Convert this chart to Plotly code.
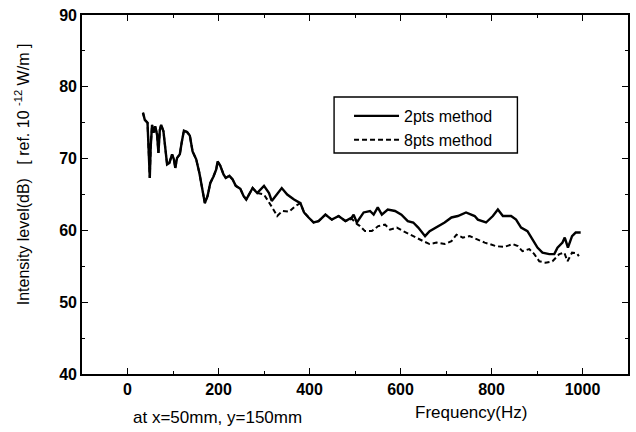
import plotly.graph_objects as go

# ---- data ----
freq_2pts = [34, 38, 44, 49, 51, 54, 57, 61, 65, 68, 71, 74, 79, 83, 87, 92, 98, 102, 105, 109,
             115, 119, 124, 131, 137, 143, 151, 158, 165, 170, 176, 182, 189, 195, 198, 204, 211,
             216, 224, 231, 238, 248, 255, 261, 275, 285, 300, 311, 317, 329, 339, 351, 366, 380,
             388, 398, 409, 420, 435, 449, 464, 479, 493, 497, 504, 519, 533, 541, 550, 559, 572,
             588, 602, 616, 628, 639, 654, 664, 679, 697, 712, 726, 744, 763, 770, 788, 803, 814,
             825, 843, 854, 865, 879, 890, 901, 912, 927, 938, 945, 956, 961, 968, 977, 985, 996]
level_2pts = [76.4, 75.4, 75.0, 67.3, 71.7, 74.7, 73.6, 74.5, 73.3, 70.8, 74.0, 74.7, 73.8, 71.7,
              69.2, 69.4, 70.6, 69.9, 68.7, 70.1, 70.6, 72.2, 73.9, 73.7, 73.2, 71.0, 69.9, 68.0,
              65.2, 63.8, 64.8, 66.6, 67.5, 68.5, 69.6, 69.0, 67.8, 67.3, 67.6, 67.1, 66.2, 65.8,
              64.8, 64.3, 65.9, 65.2, 66.2, 65.2, 64.1, 65.0, 65.9, 65.0, 64.3, 63.8, 62.5, 61.8,
              61.1, 61.3, 62.2, 61.5, 62.0, 61.3, 61.8, 62.2, 61.1, 62.5, 62.7, 62.2, 63.2, 62.2,
              62.9, 62.7, 62.2, 61.3, 61.1, 60.4, 59.2, 59.9, 60.4, 61.1, 61.8, 62.0, 62.5, 62.0,
              61.5, 61.1, 62.0, 62.9, 62.0, 62.0, 61.5, 60.4, 59.9, 58.75, 57.6, 56.9, 56.7, 56.7,
              57.6, 58.3, 59.0, 57.6, 59.2, 59.7, 59.7]

freq_8pts = [34, 38, 44, 49, 51, 54, 57, 61, 65, 68, 71, 74, 79, 83, 87, 92, 98, 102, 105, 109,
             115, 119, 124, 131, 137, 143, 151, 158, 165, 170, 176, 182, 189, 195, 198, 204, 211,
             216, 224, 231, 238, 248, 255, 261, 275, 285, 293, 300, 318, 329, 340, 355, 369, 380,
             388, 398, 409, 420, 435, 449, 464, 479, 493, 504, 511, 522, 537, 551, 566, 577, 592,
             606, 621, 635, 650, 664, 679, 697, 712, 723, 737, 752, 767, 785, 796, 810, 828, 847,
             858, 868, 883, 894, 905, 919, 934, 949, 960, 967, 977, 988, 992]
level_8pts = [76.4, 75.4, 75.0, 67.3, 71.7, 74.7, 73.6, 74.5, 73.3, 70.8, 74.0, 74.7, 73.8, 71.7,
              69.2, 69.4, 70.6, 69.9, 68.7, 70.1, 70.6, 72.2, 73.9, 73.7, 73.2, 71.0, 69.9, 68.0,
              65.2, 63.8, 64.8, 66.6, 67.5, 68.5, 69.6, 69.0, 67.8, 67.3, 67.6, 67.1, 66.2, 65.8,
              64.8, 64.3, 65.9, 65.2, 65.1, 65.0, 63.2, 62.0, 62.7, 62.6, 63.4, 63.8, 62.5, 61.8,
              61.1, 61.3, 62.2, 61.5, 62.0, 61.3, 61.6, 60.9, 60.6, 59.9, 59.9, 60.6, 60.8, 60.1,
              60.4, 59.9, 59.4, 59.0, 58.5, 58.1, 58.3, 58.1, 58.5, 59.4, 59.0, 59.2, 58.75, 58.3,
              58.1, 57.8, 57.7, 58.1, 57.8, 57.1, 57.4, 56.7, 55.7, 55.5, 55.7, 56.7, 56.9, 55.7,
              56.9, 56.8, 56.4]

x_ticks = [0, 200, 400, 600, 800, 1000]
y_ticks = [40, 50, 60, 70, 80, 90]

FONT = "Liberation Sans, Arial, sans-serif"

W, H = 636, 432
L, R, T, B = 82, 6, 15, 58
pw, ph = W - L - R, H - T - B


def px_x(v):
    return (v - L) / pw


def px_y(v):
    return (H - B - v) / ph


fig = go.Figure()
fig.add_trace(go.Scatter(x=freq_2pts, y=level_2pts, mode="lines", name="2pts method",
                         line=dict(color="black", width=2.4)))
fig.add_trace(go.Scatter(x=freq_8pts, y=level_8pts, mode="lines", name="8pts method",
                         line=dict(color="black", width=2, dash="5px,3px")))

axis_common = dict(showgrid=False, zeroline=False, showline=True, linecolor="black",
                   linewidth=1.6, mirror="ticks", ticks="inside", ticklen=6, tickwidth=1.4,
                   tickcolor="black",
                   tickfont=dict(family="Arial", size=16, color="black", weight=700))

fig.update_xaxes(range=[-100, 1100], tickvals=x_ticks, ticktext=[str(v) for v in x_ticks],
                 minor=dict(dtick=100, tick0=0, ticks="inside", ticklen=3, tickcolor="black"),
                 **axis_common)
fig.update_yaxes(range=[40, 90], tickvals=y_ticks, ticktext=[str(v) for v in y_ticks],
                 minor=dict(dtick=5, tick0=0, ticks="inside", ticklen=3, tickcolor="black"),
                 **axis_common)

fig.update_layout(
    width=W, height=H,
    margin=dict(l=L, r=R, t=T, b=B),
    paper_bgcolor="white", plot_bgcolor="white",
    font=dict(family=FONT, size=16, color="black"),
    showlegend=True,
    legend=dict(x=px_x(350), y=px_y(99), xanchor="left", yanchor="top",
                bgcolor="rgba(0,0,0,0)", borderwidth=0,
                font=dict(family=FONT, size=16, color="black"),
                itemwidth=45, tracegroupgap=0),
    shapes=[dict(type="rect", xref="paper", yref="paper",
                 x0=px_x(335), x1=px_x(519), y0=px_y(153), y1=px_y(97),
                 line=dict(color="black", width=1.4), fillcolor="rgba(0,0,0,0)")],
    annotations=[
        dict(text="Intensity level(dB)   [ ref. 10 <sup>-12</sup> W/m ]",
             x=px_x(22), y=px_y(174), textangle=-90, font=dict(size=16)),
        dict(text="at x=50mm, y=150mm", x=px_x(218), y=px_y(417), font=dict(size=17)),
        dict(text="Frequency(Hz)", x=px_x(472), y=px_y(413), font=dict(size=17)),
    ],
)
for a in fig.layout.annotations:
    a.xref = "paper"
    a.yref = "paper"
    a.xanchor = "center"
    a.yanchor = "middle"
    a.showarrow = False
    a.font.family = FONT
    a.font.color = "black"

fig.write_html("out.html")
